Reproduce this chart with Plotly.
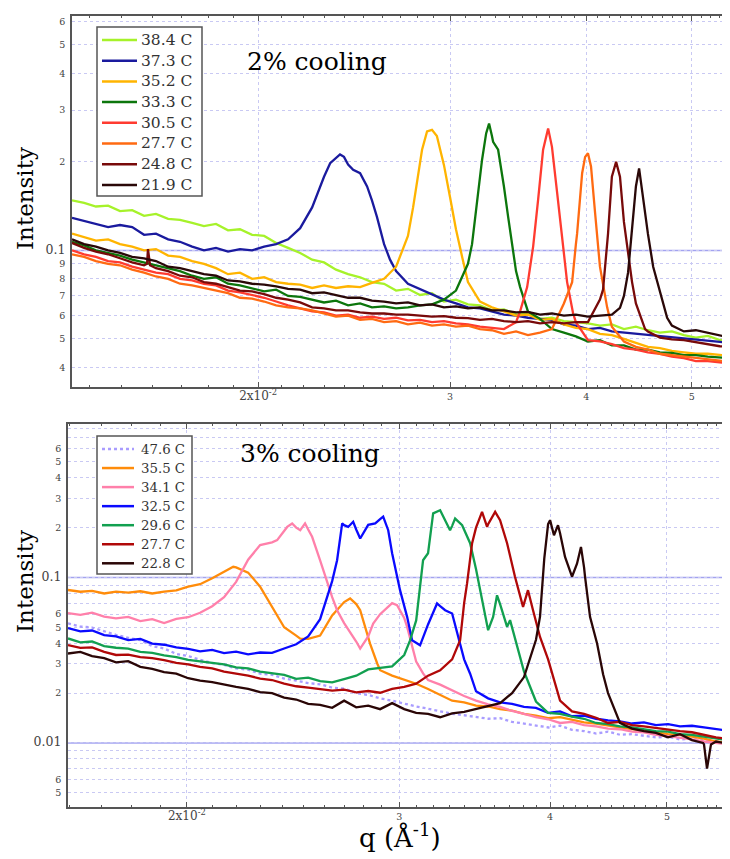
import math
import plotly.graph_objects as go

# =============== Top panel: 2% cooling ===============
top_labels = ["38.4 C", "37.3 C", "35.2 C", "33.3 C", "30.5 C", "27.7 C", "24.8 C", "21.9 C"]
top_colors = ["#a6f22a", "#1a1a9e", "#ffb400", "#0c760c", "#ff3b30", "#ff6a12", "#780a0a", "#2a0808"]

# common q sampling of the traces (1/A)
qT = [0.01350, 0.01385, 0.01420, 0.01457, 0.01494, 0.01533, 0.01572, 0.01612, 0.01654, 0.01696,
      0.01740, 0.01784, 0.01830, 0.01877, 0.01925, 0.01975, 0.02026, 0.02078, 0.02131, 0.02186,
      0.02242, 0.02299, 0.02358, 0.02419, 0.02481, 0.02544, 0.02610, 0.02677, 0.02745, 0.02816,
      0.02888, 0.02962, 0.03038, 0.03116, 0.03196, 0.03278, 0.03362, 0.03449, 0.03537, 0.03628,
      0.03721, 0.03816, 0.03914, 0.04015, 0.04118, 0.04223, 0.04332, 0.04443, 0.04557, 0.04674,
      0.04794, 0.04917, 0.05043, 0.05172, 0.05305, 0.05420]

I_384 = [0.148, 0.145, 0.141, 0.142, 0.136, 0.137, 0.131, 0.133, 0.128, 0.127,
         0.124, 0.121, 0.123, 0.117, 0.118, 0.113, 0.112, 0.106, 0.102, 0.098,
         0.093, 0.091, 0.086, 0.083, 0.081, 0.078, 0.077, 0.073, 0.074, 0.0705,
         0.0715, 0.067, 0.068, 0.0655, 0.065, 0.0625, 0.063, 0.0605, 0.061, 0.0585,
         0.059, 0.0575, 0.057, 0.0565, 0.0555, 0.056, 0.054, 0.055, 0.0535, 0.0525,
         0.053, 0.0515, 0.0505, 0.0512, 0.0495, 0.0498]
I_373 = [0.129, 0.126, 0.123, 0.120, 0.122, 0.120, 0.113, 0.114, 0.109, 0.107,
         0.103, 0.100, 0.102, 0.099, 0.101, 0.100, 0.103, 0.105, 0.109, 0.119,
         0.140, 0.178, 0.206, 0.196, 0.183, 0.148, 0.105, 0.085, 0.077, 0.074,
         0.071, 0.068, 0.066, 0.064, 0.0635, 0.062, 0.0605, 0.060, 0.059, 0.0585,
         0.058, 0.056, 0.0555, 0.054, 0.0545, 0.053, 0.0525, 0.052, 0.0515, 0.051,
         0.0505, 0.050, 0.0495, 0.049, 0.0488, 0.0485]
I_352 = [0.114, 0.111, 0.108, 0.109, 0.105, 0.103, 0.100, 0.101, 0.096, 0.095,
         0.092, 0.090, 0.087, 0.083, 0.084, 0.080, 0.081, 0.078, 0.077, 0.0765,
         0.0745, 0.076, 0.0745, 0.0755, 0.075, 0.0775, 0.080, 0.088, 0.112, 0.200,
         0.257, 0.195, 0.118, 0.078, 0.067, 0.064, 0.062, 0.060, 0.0605, 0.058,
         0.0585, 0.056, 0.0545, 0.054, 0.052, 0.0515, 0.050, 0.0485, 0.047, 0.0465,
         0.0455, 0.045, 0.0445, 0.0445, 0.044, 0.0438]
I_333 = [0.107, 0.104, 0.100, 0.098, 0.096, 0.093, 0.091, 0.089, 0.087, 0.085,
         0.082, 0.080, 0.081, 0.077, 0.076, 0.074, 0.0725, 0.0735, 0.070, 0.0695,
         0.068, 0.0665, 0.0675, 0.065, 0.066, 0.064, 0.0645, 0.0635, 0.064, 0.065,
         0.0655, 0.068, 0.073, 0.090, 0.175, 0.245, 0.165, 0.085, 0.062, 0.0585,
         0.054, 0.0525, 0.051, 0.049, 0.0495, 0.0475, 0.0475, 0.046, 0.046, 0.045,
         0.0448, 0.044, 0.044, 0.0435, 0.0432, 0.043]
I_305 = [0.100, 0.097, 0.095, 0.092, 0.091, 0.088, 0.086, 0.084, 0.083, 0.080,
         0.079, 0.077, 0.076, 0.073, 0.072, 0.0705, 0.069, 0.067, 0.065, 0.0635,
         0.062, 0.0615, 0.060, 0.0605, 0.059, 0.0595, 0.0585, 0.059, 0.0578, 0.058,
         0.057, 0.0575, 0.0565, 0.056, 0.055, 0.0545, 0.054, 0.057, 0.078, 0.175,
         0.225, 0.097, 0.057, 0.0495, 0.049, 0.048, 0.0465, 0.046, 0.045, 0.0445,
         0.0435, 0.043, 0.042, 0.042, 0.0415, 0.0413]
I_277 = [0.097, 0.095, 0.092, 0.090, 0.089, 0.086, 0.084, 0.0815, 0.080, 0.077,
         0.076, 0.0745, 0.073, 0.0715, 0.069, 0.0685, 0.067, 0.065, 0.064, 0.0635,
         0.0625, 0.061, 0.0595, 0.060, 0.058, 0.0585, 0.057, 0.0575, 0.056, 0.0568,
         0.0555, 0.056, 0.055, 0.0555, 0.054, 0.0535, 0.052, 0.053, 0.0515, 0.0525,
         0.054, 0.066, 0.105, 0.214, 0.088, 0.055, 0.049, 0.047, 0.046, 0.0445,
         0.044, 0.0435, 0.043, 0.0425, 0.042, 0.0418]
I_248 = [0.106, 0.102, 0.099, 0.097, 0.094, 0.091, 0.089, 0.087, 0.085, 0.082,
         0.081, 0.078, 0.077, 0.075, 0.073, 0.0725, 0.071, 0.069, 0.068, 0.0665,
         0.064, 0.0635, 0.0625, 0.0625, 0.0615, 0.061, 0.061, 0.0605, 0.0605, 0.060,
         0.0595, 0.0598, 0.059, 0.0588, 0.058, 0.0585, 0.0575, 0.057, 0.0575, 0.0565,
         0.057, 0.0565, 0.057, 0.057, 0.068, 0.178, 0.125, 0.066, 0.053, 0.0505,
         0.0498, 0.0495, 0.0488, 0.048, 0.0472, 0.047]
I_219 = [0.109, 0.105, 0.103, 0.100, 0.098, 0.095, 0.094, 0.092, 0.088, 0.087,
         0.085, 0.083, 0.082, 0.079, 0.0785, 0.077, 0.0765, 0.0755, 0.074, 0.0735,
         0.0715, 0.072, 0.0705, 0.069, 0.069, 0.0675, 0.067, 0.066, 0.0665, 0.065,
         0.0655, 0.064, 0.0645, 0.0635, 0.064, 0.0625, 0.0625, 0.0615, 0.0618, 0.0605,
         0.061, 0.060, 0.0605, 0.0595, 0.060, 0.0605, 0.070, 0.165, 0.114, 0.072,
         0.0555, 0.053, 0.0535, 0.0525, 0.0515, 0.0505]

# extra readings across the peaks (q, I)
xq_384, xI_384 = [], []
xq_373 = [0.02329, 0.02378, 0.02398, 0.02445, 0.02518, 0.02571, 0.02643]
xI_373 = [0.198, 0.212, 0.208, 0.188, 0.165, 0.130, 0.093]
xq_352 = [0.02775, 0.02798, 0.02828, 0.02858, 0.02918, 0.03000, 0.03078]
xI_352 = [0.140, 0.170, 0.220, 0.254, 0.245, 0.152, 0.095]
xq_333 = [0.03143, 0.03177, 0.03210, 0.03238, 0.03258, 0.03286, 0.03321, 0.03356, 0.03392, 0.03428, 0.03479]
xI_333 = [0.105, 0.149, 0.203, 0.250, 0.270, 0.234, 0.220, 0.174, 0.130, 0.098, 0.075]
xq_305 = [0.03479, 0.03531, 0.03576, 0.03614, 0.03652, 0.03691, 0.03762, 0.03802, 0.03842, 0.03891]
xI_305 = [0.062, 0.075, 0.103, 0.149, 0.220, 0.260, 0.157, 0.109, 0.078, 0.061]
xq_277 = [0.03883, 0.03924, 0.03966, 0.03991, 0.04041, 0.04076, 0.04181]
xI_277 = [0.078, 0.114, 0.183, 0.208, 0.193, 0.134, 0.064]
xq_248 = [0.01582, 0.01585, 0.01592, 0.04145, 0.04189, 0.04261, 0.04296, 0.04407, 0.04530]
xI_248 = [0.090, 0.101, 0.089, 0.0735, 0.114, 0.200, 0.178, 0.078, 0.054]
xq_219 = [0.04296, 0.04370, 0.04417, 0.04473, 0.04511, 0.04608, 0.04746]
xI_219 = [0.0638, 0.084, 0.130, 0.190, 0.149, 0.088, 0.059]

top_I = [I_384, I_373, I_352, I_333, I_305, I_277, I_248, I_219]
top_xq = [xq_384, xq_373, xq_352, xq_333, xq_305, xq_277, xq_248, xq_219]
top_xI = [xI_384, xI_373, xI_352, xI_333, xI_305, xI_277, xI_248, xI_219]

# =============== Bottom panel: 3% cooling ===============
bot_labels = ["47.6 C", "35.5 C", "34.1 C", "32.5 C", "29.6 C", "27.7 C", "22.8 C"]
bot_colors = ["#a99cff", "#ff8c0a", "#ff80aa", "#0a0aff", "#12a050", "#b00808", "#2a0606"]

qB = [0.01594, 0.01632, 0.01669, 0.01708, 0.01747, 0.01788, 0.01830, 0.01872, 0.01915, 0.01960,
      0.02005, 0.02051, 0.02099, 0.02147, 0.02197, 0.02248, 0.02300, 0.02353, 0.02408, 0.02464,
      0.02521, 0.02579, 0.02639, 0.02700, 0.02763, 0.02827, 0.02892, 0.02959, 0.03028, 0.03098,
      0.03169, 0.03243, 0.03318, 0.03395, 0.03473, 0.03554, 0.03636, 0.03720, 0.03806, 0.03894,
      0.03985, 0.04077, 0.04171, 0.04268, 0.04367, 0.04468, 0.04571, 0.04677, 0.04785, 0.04896,
      0.05010, 0.05126, 0.05244, 0.05366, 0.05490, 0.05617, 0.05639]

J_476 = [0.0528, 0.0505, 0.0498, 0.0472, 0.0450, 0.0432, 0.0418, 0.0385, 0.0372, 0.0345,
         0.0335, 0.0318, 0.0304, 0.0296, 0.0282, 0.0277, 0.0262, 0.0258, 0.0245, 0.0238,
         0.0230, 0.0226, 0.0216, 0.0213, 0.0200, 0.0195, 0.0186, 0.0180, 0.0172, 0.0166,
         0.0161, 0.0155, 0.0150, 0.0147, 0.0143, 0.0140, 0.0141, 0.0134, 0.0131, 0.0127,
         0.0124, 0.0127, 0.0120, 0.0118, 0.0114, 0.0117, 0.0112, 0.0113, 0.0110, 0.0108,
         0.0109, 0.0105, 0.0106, 0.0103, 0.0101, 0.0100, 0.0100]
J_355 = [0.084, 0.082, 0.083, 0.080, 0.082, 0.081, 0.0825, 0.080, 0.082, 0.0835,
         0.088, 0.091, 0.099, 0.108, 0.115, 0.107, 0.088, 0.066, 0.050, 0.0445,
         0.0425, 0.0445, 0.059, 0.071, 0.069, 0.044, 0.0275, 0.0255, 0.0240, 0.0228,
         0.0212, 0.0195, 0.0180, 0.0176, 0.0168, 0.0166, 0.0160, 0.0157, 0.0150, 0.0146,
         0.0141, 0.0143, 0.0138, 0.0133, 0.0131, 0.0127, 0.0124, 0.0121, 0.0119, 0.0116,
         0.0113, 0.0112, 0.0109, 0.0106, 0.0102, 0.0101, 0.0100]
J_341 = [0.0608, 0.0595, 0.0612, 0.0580, 0.0566, 0.0578, 0.0545, 0.0560, 0.0530, 0.0562,
         0.0575, 0.0612, 0.0670, 0.0760, 0.0940, 0.128, 0.157, 0.163, 0.190, 0.200,
         0.195, 0.127, 0.076, 0.053, 0.041, 0.044, 0.060, 0.070, 0.057, 0.031,
         0.024, 0.0225, 0.0208, 0.0192, 0.0180, 0.0171, 0.0165, 0.0156, 0.0150, 0.0143,
         0.0139, 0.0132, 0.0134, 0.0128, 0.0126, 0.0122, 0.0121, 0.0117, 0.0116, 0.0112,
         0.0110, 0.0108, 0.0105, 0.0102, 0.0100, 0.0098, 0.0098]
J_325 = [0.0494, 0.0472, 0.0478, 0.0448, 0.0440, 0.0418, 0.0425, 0.0398, 0.0392, 0.0378,
         0.0370, 0.0358, 0.0365, 0.0349, 0.0356, 0.0343, 0.0352, 0.0350, 0.0372, 0.0395,
         0.0440, 0.0560, 0.095, 0.207, 0.195, 0.208, 0.225, 0.140, 0.068, 0.040,
         0.052, 0.067, 0.0606, 0.032, 0.0205, 0.0186, 0.0176, 0.0172, 0.0165, 0.0163,
         0.0152, 0.0155, 0.0145, 0.0146, 0.0140, 0.0137, 0.0135, 0.0131, 0.0133, 0.0128,
         0.0130, 0.0126, 0.0127, 0.0124, 0.0121, 0.0119, 0.0118]
J_296 = [0.0428, 0.0405, 0.0410, 0.0385, 0.0376, 0.0372, 0.0355, 0.0350, 0.0338, 0.0330,
         0.0318, 0.0312, 0.0306, 0.0298, 0.0286, 0.0282, 0.0270, 0.0265, 0.0258, 0.0244,
         0.0248, 0.0236, 0.0232, 0.0243, 0.0255, 0.0278, 0.0285, 0.0290, 0.0340, 0.0550,
         0.140, 0.255, 0.205, 0.195, 0.112, 0.048, 0.069, 0.050, 0.027, 0.0178,
         0.0152, 0.0150, 0.0144, 0.0140, 0.0132, 0.0130, 0.0126, 0.0124, 0.0121, 0.0118,
         0.0117, 0.0113, 0.0112, 0.0109, 0.0107, 0.0104, 0.0104]
J_277 = [0.0390, 0.0375, 0.0378, 0.0355, 0.0340, 0.0342, 0.0330, 0.0325, 0.0316, 0.0305,
         0.0298, 0.0288, 0.0282, 0.0270, 0.0262, 0.0255, 0.0245, 0.0240, 0.0228, 0.0220,
         0.0216, 0.0212, 0.0207, 0.0210, 0.0202, 0.0206, 0.0201, 0.0212, 0.0218, 0.0228,
         0.0255, 0.0275, 0.0320, 0.070, 0.200, 0.210, 0.222, 0.120, 0.070, 0.054,
         0.032, 0.018, 0.0155, 0.0150, 0.0142, 0.0132, 0.0134, 0.0128, 0.0126, 0.0123,
         0.0121, 0.0118, 0.0116, 0.0112, 0.0108, 0.0106, 0.0105]
J_228 = [0.0347, 0.0355, 0.0335, 0.0325, 0.0307, 0.0312, 0.0288, 0.0280, 0.0268, 0.0262,
         0.0246, 0.0238, 0.0233, 0.0225, 0.0218, 0.0212, 0.0203, 0.0200, 0.0188, 0.0183,
         0.0172, 0.0170, 0.0163, 0.0180, 0.0164, 0.0168, 0.0160, 0.0174, 0.0160, 0.0152,
         0.0150, 0.0143, 0.0151, 0.0154, 0.0160, 0.0166, 0.0174, 0.0200, 0.0250, 0.0420,
         0.210, 0.185, 0.101, 0.115, 0.042, 0.020, 0.0132, 0.0122, 0.0118, 0.0115,
         0.0108, 0.0113, 0.0104, 0.0098, 0.0102, 0.0099, 0.0099]

yq_476, yI_476 = [], []
yq_355 = [0.02185, 0.02483, 0.02731, 0.02784, 0.02837, 0.02876]
yI_355 = [0.116, 0.0427, 0.0746, 0.0634, 0.0398, 0.0302]
yq_341 = [0.02376, 0.02422, 0.02445, 0.02483, 0.02506, 0.02540, 0.02619, 0.02664, 0.02784, 0.02854,
          0.02987, 0.03045, 0.03080, 0.03139]
yI_341 = [0.168, 0.202, 0.212, 0.193, 0.212, 0.176, 0.088, 0.0634, 0.0372, 0.0527,
          0.068, 0.0503, 0.0363, 0.0263]
yq_325 = [0.02664, 0.02690, 0.02721, 0.02747, 0.02784, 0.02865, 0.02909, 0.02937, 0.03004, 0.03045,
          0.03074, 0.03121, 0.03224, 0.03274, 0.03369, 0.03434]
yI_325 = [0.127, 0.212, 0.202, 0.217, 0.172, 0.212, 0.233, 0.193, 0.0838, 0.0578,
          0.0417, 0.0389, 0.0696, 0.0634, 0.0398, 0.0262]
yq_296 = [0.03062, 0.03139, 0.03200, 0.03274, 0.03305, 0.03337, 0.03382, 0.03434, 0.03520, 0.03588,
          0.03615, 0.03685, 0.03706, 0.03756]
yI_296 = [0.0417, 0.127, 0.244, 0.222, 0.193, 0.227, 0.207, 0.161, 0.0696, 0.0578,
          0.078, 0.0503, 0.0552, 0.038]
yq_277 = [0.03369, 0.03414, 0.03447, 0.03513, 0.03547, 0.03602, 0.03685, 0.03741, 0.03799, 0.03835,
          0.03872, 0.03924, 0.04023]
yI_277 = [0.0417, 0.092, 0.161, 0.249, 0.202, 0.249, 0.161, 0.101, 0.0664, 0.0838,
          0.0634, 0.0437, 0.025]
yq_228 = [0.03924, 0.03956, 0.04000, 0.04030, 0.04061, 0.04116, 0.04211, 0.04243, 0.04276, 0.04317,
          0.04376, 0.04426, 0.05356, 0.05397, 0.05438]
yI_228 = [0.058, 0.130, 0.222, 0.180, 0.207, 0.133, 0.121, 0.153, 0.101, 0.0578,
          0.0398, 0.026, 0.0100, 0.0070, 0.0098]

bot_I = [J_476, J_355, J_341, J_325, J_296, J_277, J_228]
bot_xq = [yq_476, yq_355, yq_341, yq_325, yq_296, yq_277, yq_228]
bot_xI = [yI_476, yI_355, yI_341, yI_325, yI_296, yI_277, yI_228]

# =============== ticks ===============
x_major = [0.02, 0.03, 0.04, 0.05]
x_major_text = ["2x10<sup>-2</sup>", "3", "4", "5"]
x_minor = [k / 1000 for k in range(13, 57) if k not in (20, 30, 40, 50)]

top_y_vals = [0.04, 0.05, 0.06, 0.07, 0.08, 0.09, 0.1, 0.2, 0.3, 0.4, 0.5, 0.6]
top_y_text = ["4", "5", "6", "7", "8", "9", "0.1", "2", "3", "4", "5", "6"]
bot_y_vals = [0.005, 0.006, 0.01, 0.02, 0.03, 0.04, 0.05, 0.06, 0.1, 0.2, 0.3, 0.4, 0.5, 0.6]
bot_y_text = ["5", "6", "0.01", "2", "3", "4", "5", "6", "0.1", "2", "3", "4", "5", "6"]
bot_y_unlabelled = [0.007, 0.008, 0.009, 0.07, 0.08, 0.09, 0.7, 0.8]

# =============== layout helpers (page has an 8px body margin) ===============
OFF = 8
W, H = 730 - OFF, 859 - OFF
def px(x):
    return (x - OFF) / W
def py(y):
    return 1 - (y - OFF) / H

SERIF = "DejaVu Serif, serif"
GRID = "#c9c9f3"
MAJ = "#a3a3f0"
AX = "#555555"

def big(t):
    return t if len(t) <= 1 else '<span style="font-size:12.5px">' + t + '</span>'

def merge(gq, gi, eq, ei):
    pts = sorted(zip(list(gq) + list(eq), list(gi) + list(ei)))
    return [p[0] for p in pts], [p[1] for p in pts]

fig = go.Figure()
for lab, col, I, eq, ei in zip(top_labels, top_colors, top_I, top_xq, top_xI):
    q, v = merge(qT, I, eq, ei)
    fig.add_trace(go.Scatter(x=q, y=v, mode="lines", name=lab, xaxis="x", yaxis="y", showlegend=False,
                             line=dict(color=col, width=2.3)))
for lab, col, I, eq, ei in zip(bot_labels, bot_colors, bot_I, bot_xq, bot_xI):
    q, v = merge(qB, I, eq, ei)
    dash = "dot" if lab == "47.6 C" else "solid"
    fig.add_trace(go.Scatter(x=q, y=v, mode="lines", name=lab, xaxis="x2", yaxis="y2", showlegend=False,
                             line=dict(color=col, width=2.3, dash=dash)))

def xaxis_cfg(domain, rng, anchor):
    return dict(type="log", domain=domain, range=[math.log10(rng[0]), math.log10(rng[1])], anchor=anchor,
                tickmode="array", tickvals=x_major,
                ticktext=[('<span style="font-size:12px">' + t + '</span>') if i == 0 else t
                          for i, t in enumerate(x_major_text)],
                ticks="inside", ticklen=5, tickcolor=AX, showline=True, linecolor=AX, linewidth=1.5,
                mirror="ticks", showgrid=True, gridcolor=GRID, griddash="dot", gridwidth=1, zeroline=False,
                tickfont=dict(family=SERIF, size=9.5, color="#444"),
                minor=dict(tickmode="array", tickvals=x_minor, ticks="inside", ticklen=2.5, tickcolor=AX,
                           showgrid=False))

def yaxis_cfg(domain, rng, anchor, vals, text, unl=None):
    d = dict(type="log", domain=domain, range=[math.log10(rng[0]), math.log10(rng[1])], anchor=anchor,
             tickmode="array", tickvals=vals, ticktext=[big(t) for t in text], ticks="",
             showline=True, linecolor=AX, linewidth=1.5, mirror=False, showgrid=True, gridcolor=GRID,
             griddash="dot", gridwidth=1, zeroline=False, ticklabelstandoff=3,
             tickfont=dict(family=SERIF, size=9.5, color="#444"))
    if unl:
        d["minor"] = dict(tickmode="array", tickvals=unl, ticks="", showgrid=True, gridcolor=GRID,
                          griddash="dot", gridwidth=1)
    return d

fig.update_layout(
    width=W, height=H, margin=dict(l=0, r=0, t=0, b=0),
    paper_bgcolor="white", plot_bgcolor="white", showlegend=False,
    xaxis=xaxis_cfg([px(72), 1], (0.0135, 0.0542), "y"),
    yaxis=yaxis_cfg([py(387), py(16)], (0.0343, 0.627), "x", top_y_vals, top_y_text),
    xaxis2=xaxis_cfg([px(68), 1], (0.01594, 0.05639), "y2"),
    yaxis2=yaxis_cfg([py(807), py(424)], (0.0041, 0.846), "x2", bot_y_vals, bot_y_text, bot_y_unlabelled),
)

# solid gridlines at the decades
for yref, val in (("y", 0.1), ("y2", 0.1), ("y2", 0.01)):
    fig.add_shape(type="line", xref=("x domain" if yref == "y" else "x2 domain"), x0=0, x1=1,
                  yref=yref, y0=val, y1=val, line=dict(color=MAJ, width=1.5), layer="below")

# hand-built legends (boxes, line samples, labels)
def legend(labels, colors, box, first_row, step, line_x, text_x, size):
    fig.add_shape(type="rect", xref="paper", yref="paper", x0=px(box[0]), x1=px(box[1]),
                  y0=py(box[3]), y1=py(box[2]), line=dict(color="#555", width=1.5),
                  fillcolor="white", layer="above")
    for i, (lab, col) in enumerate(zip(labels, colors)):
        yy = first_row + i * step
        dash = "dot" if lab == "47.6 C" else "solid"
        fig.add_shape(type="line", xref="paper", yref="paper", x0=px(line_x[0]), x1=px(line_x[1]),
                      y0=py(yy), y1=py(yy), line=dict(color=col, width=2.5, dash=dash), layer="above")
        fig.add_annotation(text=lab, x=px(text_x), y=py(yy), xref="paper", yref="paper", showarrow=False,
                           xanchor="left", yanchor="middle",
                           font=dict(family=SERIF, size=size, color="#333"))

legend(top_labels, top_colors, (97, 202, 27, 196), 40, 20.7, (102, 137), 139, 15.5)
legend(bot_labels, bot_colors, (97, 192, 436, 574), 449, 19.05, (102, 134), 139, 13.3)

ann = [
    dict(text="2% cooling", x=317, y=61, size=25),
    dict(text="3% cooling", x=310, y=453, size=25),
    dict(text="q (Å<sup>-1</sup>)", x=400, y=836, size=26),
]
for a in ann:
    fig.add_annotation(text=a["text"], x=px(a["x"]), y=py(a["y"]), xref="paper", yref="paper",
                       showarrow=False, xanchor="center", yanchor="middle",
                       font=dict(family=SERIF, size=a["size"], color="black"))
for yc in (199, 582):
    fig.add_annotation(text="Intensity", x=px(25), y=py(yc), xref="paper", yref="paper", showarrow=False,
                       textangle=-90, xanchor="center", yanchor="middle",
                       font=dict(family=SERIF, size=23, color="black"))

fig.write_html("out.html")
